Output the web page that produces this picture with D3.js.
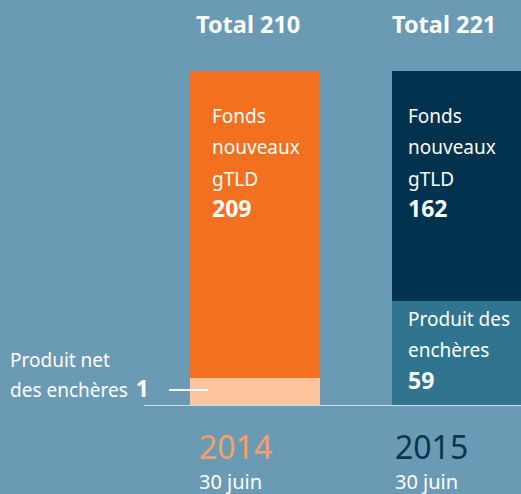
<!DOCTYPE html>
<html>
<head>
<meta charset="utf-8">
<script src="https://cdn.jsdelivr.net/npm/d3@7"></script>
<style>
    html, body { margin: 0; padding: 0; background: #6b9ab5; overflow: hidden; }
    svg { display: block; font-family: "Noto Sans", sans-serif; }
    .total { font-weight: 700; font-size: 23.5px; fill: #fff; }
    .label { font-size: 19px; fill: #fff; }
    .num { font-weight: 700; font-size: 23px; }
    .year { font-size: 32px; }
    .date { font-size: 20px; fill: #fff; }
</style>
</head>
<body>
<script>
// data
const years = ["2014", "2015"];
const dates = ["30 juin", "30 juin"];
const totals = [210, 221];
const fondsGtld = [209, 162];
const produitEncheres = [1, 59];

const fondsLabel = ["Fonds", "nouveaux", "gTLD"];
const encheresLabel2015 = ["Produit des", "enchères"];
const encheresLabel2014 = ["Produit net", "des enchères"];

window.onload = setChart;

function setChart() {
    const width = 521;
    const height = 494;

    const baseY = 405;
    const topY = 71;

    // colours per year: top segment, bottom segment, year label
    const topColor = ["#f37021", "#00324e"];
    const bottomColor = ["#fdc49d", "#30748f"];
    const yearColor = ["#f5a068", "#073651"];

    // text inset inside each bar
    const inset = [22, 16];
    // bottom segments need room for their label (or a visible sliver)
    const minInside = 104;
    const minOutside = 27;

    const svg = d3.select("body")
        .append("svg")
        .attr("width", width)
        .attr("height", height);

    const x = d3.scaleBand()
        .domain(years)
        .range([190, 522])
        .paddingInner(72 / 202)
        .paddingOuter(0);

    // each bar is scaled to its own total
    const yScales = totals.map(function (t) {
        return d3.scaleLinear().domain([0, t]).range([baseY, topY]);
    });

    const bars = years.map(function (yr, i) {
        const y = yScales[i];
        const minH = i === 0 ? minOutside : minInside;
        const bottomH = Math.max(baseY - y(produitEncheres[i]), minH);
        return {
            year: yr,
            i: i,
            x0: x(yr),
            top: y(fondsGtld[i] + produitEncheres[i]),
            split: baseY - bottomH,
            tx: x(yr) + inset[i]
        };
    });

    // top segments
    svg.selectAll(".seg-top")
        .data(bars)
        .enter()
        .append("rect")
        .attr("class", "seg-top")
        .attr("x", d => d.x0)
        .attr("y", d => d.top)
        .attr("width", x.bandwidth())
        .attr("height", d => d.split - d.top)
        .style("fill", d => topColor[d.i]);

    // bottom segments
    svg.selectAll(".seg-bottom")
        .data(bars)
        .enter()
        .append("rect")
        .attr("class", "seg-bottom")
        .attr("x", d => d.x0)
        .attr("y", d => d.split)
        .attr("width", x.bandwidth())
        .attr("height", d => baseY - d.split)
        .style("fill", d => bottomColor[d.i]);

    // baseline
    svg.append("line")
        .attr("x1", 144)
        .attr("x2", width)
        .attr("y1", baseY + 0.5)
        .attr("y2", baseY + 0.5)
        .style("stroke", "#cfe0ea")
        .style("stroke-width", 1);

    // totals
    svg.selectAll(".total")
        .data(bars)
        .enter()
        .append("text")
        .attr("class", "total")
        .attr("x", d => d.tx - 16)
        .attr("y", 33)
        .text(d => "Total " + totals[d.i]);

    // fonds labels inside top segment
    bars.forEach(function (d) {
        const t = svg.append("text")
            .attr("class", "label")
            .attr("x", d.tx)
            .attr("y", d.top + 52);
        fondsLabel.forEach(function (line, k) {
            t.append("tspan")
                .attr("x", d.tx)
                .attr("dy", k === 0 ? 0 : 31.3)
                .text(line);
        });
        t.append("tspan")
            .attr("class", "num")
            .attr("x", d.tx)
            .attr("dy", 31.3)
            .text(fondsGtld[d.i]);
    });

    // 2015 auction label inside bottom segment
    const b2 = bars[1];
    const t2 = svg.append("text")
        .attr("class", "label")
        .attr("x", b2.tx)
        .attr("y", b2.split + 25);
    encheresLabel2015.forEach(function (line, k) {
        t2.append("tspan")
            .attr("x", b2.tx)
            .attr("dy", k === 0 ? 0 : 31.3)
            .text(line);
    });
    t2.append("tspan")
        .attr("class", "num")
        .attr("x", b2.tx)
        .attr("dy", 31.3)
        .text(produitEncheres[1]);

    // 2014 auction label outside, with connector
    const b1 = bars[0];
    const t1 = svg.append("text")
        .attr("class", "label")
        .attr("x", 10)
        .attr("y", 367);
    t1.append("tspan")
        .attr("x", 10)
        .text(encheresLabel2014[0]);
    t1.append("tspan")
        .attr("x", 10)
        .attr("dy", 29.5)
        .text(encheresLabel2014[1]);
    t1.append("tspan")
        .attr("class", "num")
        .attr("dx", 8)
        .text(produitEncheres[0]);

    const midY = (b1.split + baseY) / 2 - 1.5;
    svg.append("line")
        .attr("x1", 169)
        .attr("x2", b1.x0 + 18)
        .attr("y1", midY)
        .attr("y2", midY)
        .style("stroke", "#fff")
        .style("stroke-width", 2);

    // years and dates
    svg.selectAll(".year")
        .data(bars)
        .enter()
        .append("text")
        .attr("class", "year")
        .attr("x", d => d.tx - 13)
        .attr("y", 459)
        .style("fill", d => yearColor[d.i])
        .text(d => d.year);

    svg.selectAll(".date")
        .data(bars)
        .enter()
        .append("text")
        .attr("class", "date")
        .attr("x", d => d.tx - 13)
        .attr("y", 489)
        .text(d => dates[d.i]);
}
</script>
</body>
</html>
